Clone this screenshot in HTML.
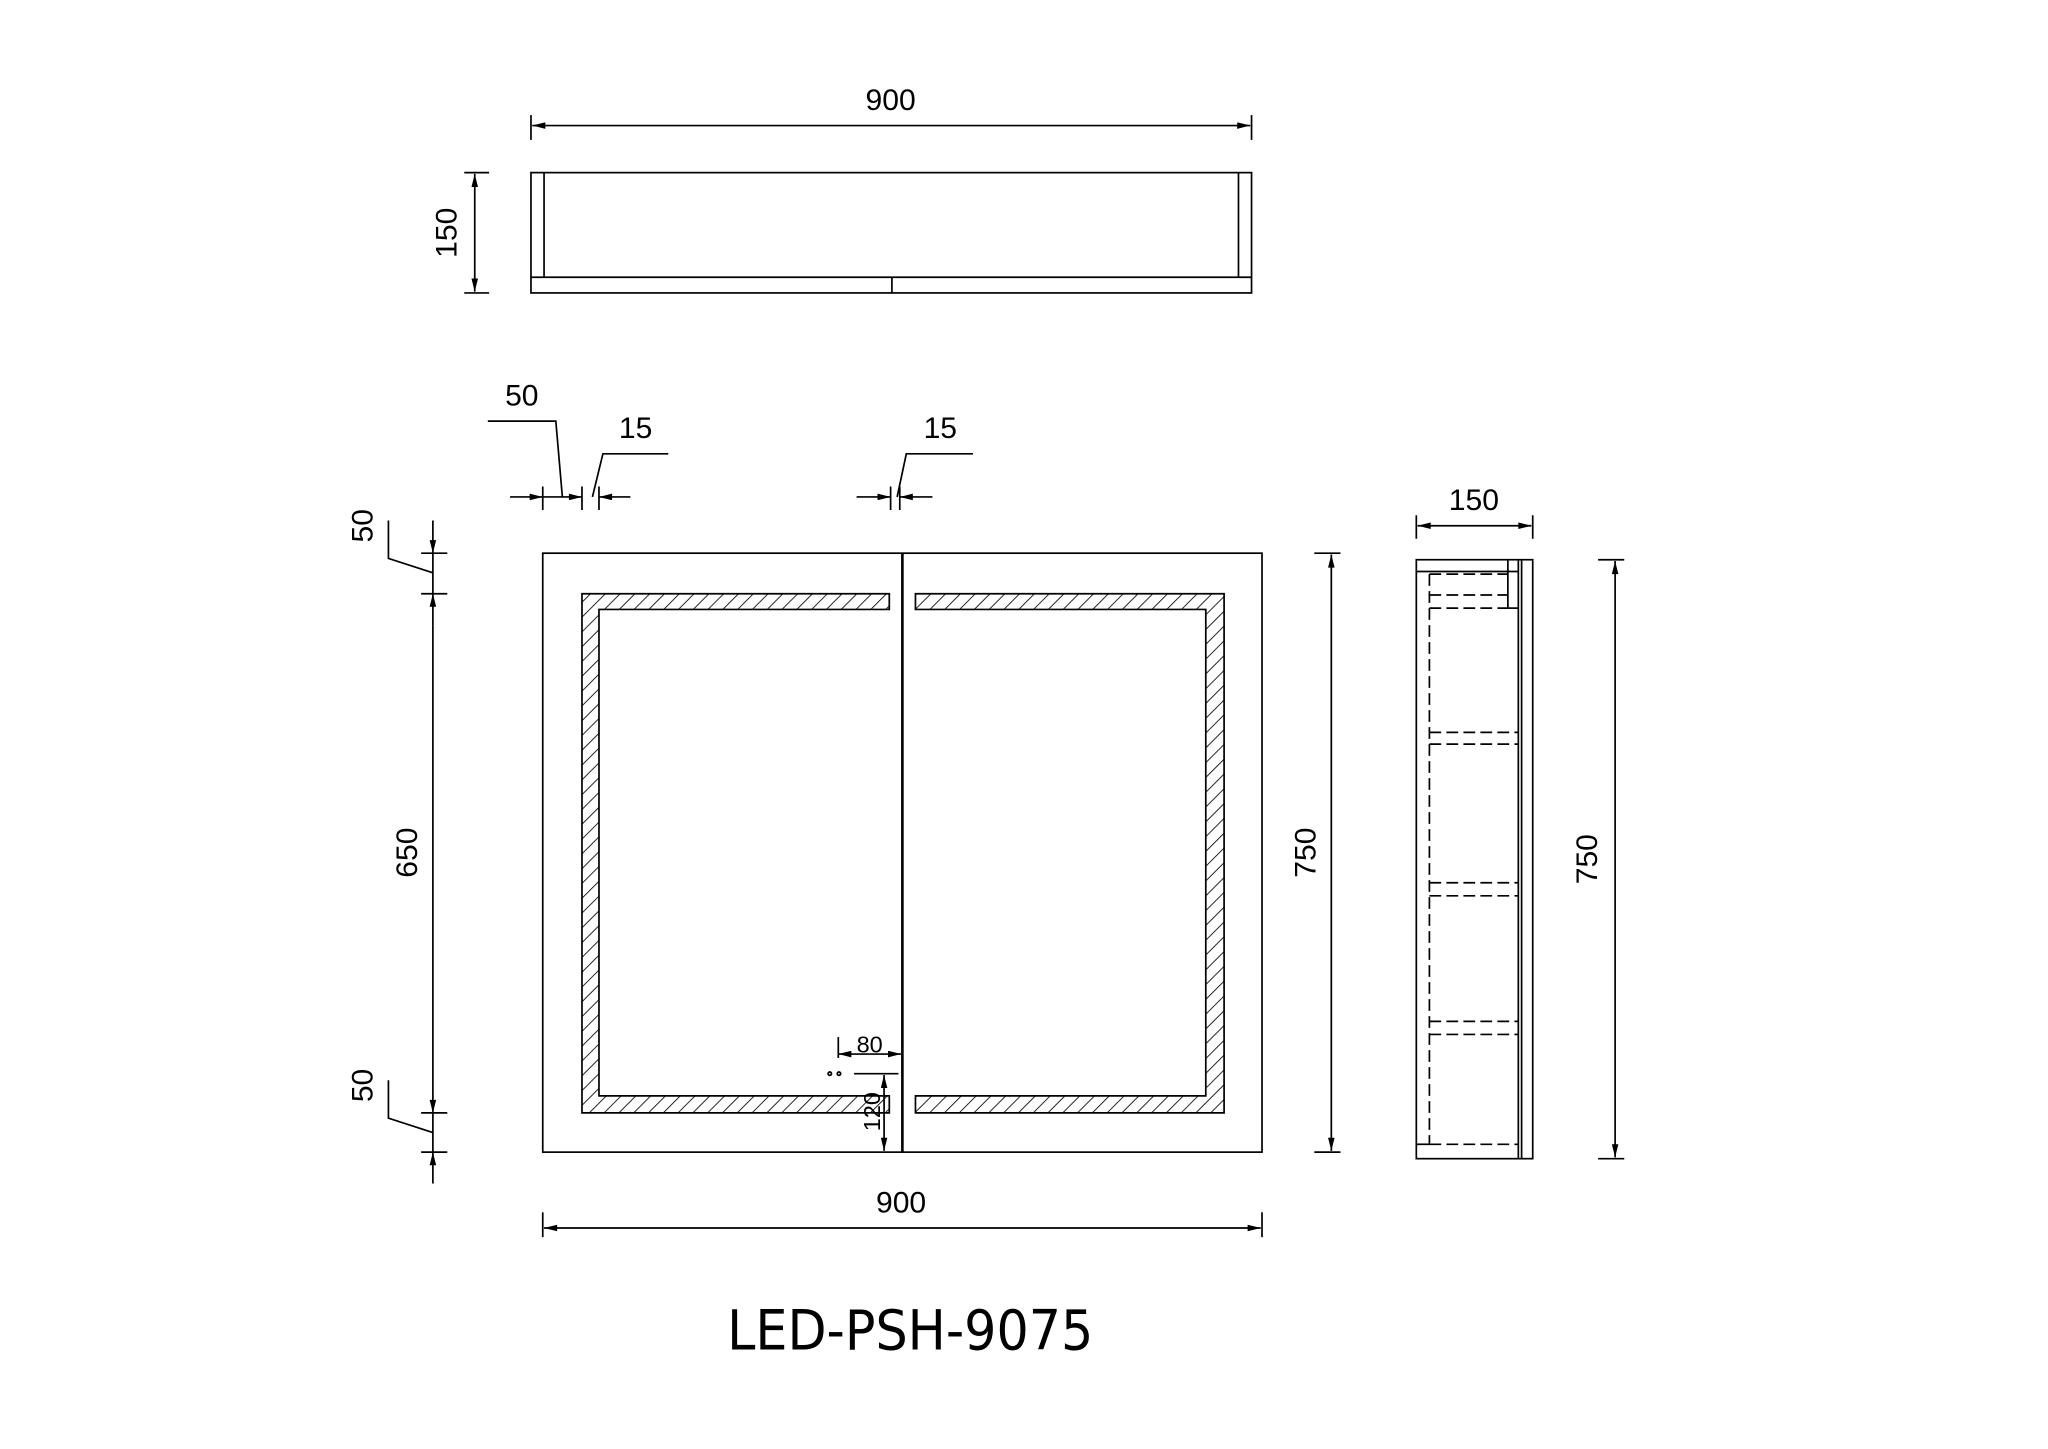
<!DOCTYPE html>
<html><head><meta charset="utf-8"><style>
html,body{margin:0;padding:0;background:#fff;}
svg{display:block;}
text{font-family:"Liberation Sans",Arial,sans-serif;fill:#000;}
</style></head><body>
<svg width="2048" height="1449" viewBox="0 0 1566 1108" xmlns="http://www.w3.org/2000/svg">
<defs>
<pattern id="h" patternUnits="userSpaceOnUse" width="8" height="8" patternTransform="rotate(45)">
<rect width="8" height="8" fill="#fff"/><line x1="0" y1="0" x2="0" y2="8" stroke="#000" stroke-width="1.3"/>
</pattern>
<marker id="a" viewBox="0 0 12 6" refX="12" refY="3" markerWidth="12" markerHeight="5" markerUnits="userSpaceOnUse" orient="auto-start-reverse"><path d="M0,0 L12,3 L0,6 z" fill="#000"/></marker>
</defs>
<g stroke="#000" stroke-width="1.3" fill="none">
<!-- top view -->
<line x1="406" y1="88" x2="406" y2="107"/><line x1="957" y1="88" x2="957" y2="107"/>
<line x1="407" y1="96" x2="956" y2="96" marker-start="url(#a)" marker-end="url(#a)"/>
<rect x="406" y="132" width="551" height="92"/>
<line x1="416" y1="132" x2="416" y2="212"/><line x1="947" y1="132" x2="947" y2="212"/>
<line x1="406" y1="212" x2="957" y2="212"/><line x1="682" y1="212" x2="682" y2="224"/>
<line x1="355" y1="132" x2="374" y2="132"/><line x1="355" y1="224" x2="374" y2="224"/>
<line x1="363" y1="133" x2="363" y2="223" marker-start="url(#a)" marker-end="url(#a)"/>

<!-- front view -->
<rect x="415" y="423" width="550" height="458"/>
<line x1="690" y1="423" x2="690" y2="881" stroke-width="2"/>
<path d="M445,454 L680,454 L680,466 L458,466 L458,838 L680,838 L680,851 L445,851 Z" fill="url(#h)"/>
<path d="M700,454 L936,454 L936,851 L700,851 L700,838 L922,838 L922,466 L700,466 Z" fill="url(#h)"/>
<line x1="1005" y1="423" x2="1025" y2="423"/><line x1="1005" y1="881" x2="1025" y2="881"/>
<line x1="1018" y1="424" x2="1018" y2="880" marker-start="url(#a)" marker-end="url(#a)"/>
<line x1="415" y1="927" x2="415" y2="946"/><line x1="965" y1="927" x2="965" y2="946"/>
<line x1="416" y1="939" x2="964" y2="939" marker-start="url(#a)" marker-end="url(#a)"/>

<!-- left dims -->
<line x1="322" y1="423" x2="342" y2="423"/><line x1="322" y1="454" x2="342" y2="454"/>
<line x1="322" y1="851" x2="342" y2="851"/><line x1="322" y1="881" x2="342" y2="881"/>
<line x1="331" y1="398" x2="331" y2="423" marker-end="url(#a)"/>
<line x1="331" y1="423" x2="331" y2="454"/>
<line x1="331" y1="478" x2="331" y2="454" marker-end="url(#a)"/>
<line x1="331" y1="478" x2="331" y2="827"/>
<line x1="331" y1="827" x2="331" y2="851" marker-end="url(#a)"/>
<line x1="331" y1="851" x2="331" y2="881"/>
<line x1="331" y1="905" x2="331" y2="881" marker-end="url(#a)"/>
<polyline points="297,398 297,427 331,438"/>
<polyline points="297,826 297,855 331,866"/>

<!-- top dims -->
<line x1="415" y1="372" x2="415" y2="390"/><line x1="445" y1="372" x2="445" y2="390"/><line x1="458" y1="372" x2="458" y2="390"/>
<line x1="390" y1="380" x2="415" y2="380" marker-end="url(#a)"/>
<line x1="415" y1="380" x2="445" y2="380" marker-end="url(#a)"/>
<line x1="482" y1="380" x2="458" y2="380" marker-end="url(#a)"/>
<polyline points="373,322 425,322 430,380"/>
<polyline points="453,380 461,347 511,347"/>
<line x1="681" y1="372" x2="681" y2="390"/><line x1="688" y1="372" x2="688" y2="390"/>
<line x1="655" y1="380" x2="681" y2="380" marker-end="url(#a)"/>
<line x1="713" y1="380" x2="688" y2="380" marker-end="url(#a)"/>
<polyline points="686,380 693,347 744,347"/>

<!-- small detail -->
<line x1="641" y1="793" x2="641" y2="809"/>
<line x1="665" y1="806" x2="641" y2="806" marker-end="url(#a)"/>
<line x1="665" y1="806" x2="689" y2="806" marker-end="url(#a)"/>
<line x1="653" y1="821" x2="687" y2="821"/>
<line x1="676" y1="850" x2="676" y2="822" marker-end="url(#a)"/>
<line x1="676" y1="850" x2="676" y2="880" marker-end="url(#a)"/>
<circle cx="634.5" cy="821" r="1.3"/><circle cx="641.5" cy="821" r="1.3"/>

<!-- side view -->
<rect x="1083" y="428" width="89" height="458"/>
<line x1="1161" y1="428" x2="1161" y2="886"/><line x1="1163.5" y1="428" x2="1163.5" y2="886"/>
<line x1="1083" y1="437" x2="1161" y2="437"/>
<line x1="1083" y1="875" x2="1093" y2="875"/>
<line x1="1153" y1="428" x2="1153" y2="465"/>
<line x1="1153" y1="465" x2="1161" y2="465"/>
<g stroke-dasharray="9,4">
<line x1="1093" y1="439" x2="1093" y2="875"/>
<line x1="1093" y1="439" x2="1153" y2="439"/>
<line x1="1093" y1="455" x2="1153" y2="455"/>
<line x1="1093" y1="465" x2="1153" y2="465"/>
<line x1="1093" y1="560" x2="1161" y2="560"/><line x1="1093" y1="569" x2="1161" y2="569"/>
<line x1="1093" y1="675" x2="1161" y2="675"/><line x1="1093" y1="685" x2="1161" y2="685"/>
<line x1="1093" y1="781" x2="1161" y2="781"/><line x1="1093" y1="791" x2="1161" y2="791"/>
<line x1="1093" y1="875" x2="1161" y2="875"/>
</g>
<line x1="1083" y1="394" x2="1083" y2="412"/><line x1="1172" y1="394" x2="1172" y2="412"/>
<line x1="1084" y1="402" x2="1171" y2="402" marker-start="url(#a)" marker-end="url(#a)"/>
<line x1="1222" y1="428" x2="1242" y2="428"/><line x1="1222" y1="886" x2="1242" y2="886"/>
<line x1="1235" y1="429" x2="1235" y2="885" marker-start="url(#a)" marker-end="url(#a)"/>
</g>

<g font-size="23" text-anchor="middle">
<text x="681" y="84">900</text>
<text x="689" y="927">900</text>
<text x="399" y="310">50</text>
<text x="486" y="335">15</text>
<text x="719" y="335">15</text>
<text x="1127" y="390">150</text>
<text transform="translate(349,178) rotate(-90)">150</text>
<text transform="translate(285,402) rotate(-90)">50</text>
<text transform="translate(319,652) rotate(-90)">650</text>
<text transform="translate(285,830) rotate(-90)">50</text>
<text transform="translate(1006,652) rotate(-90)">750</text>
<text transform="translate(1221,657) rotate(-90)">750</text>
<text x="665" y="805" font-size="18">80</text>
<text transform="translate(673,850) rotate(-90)" font-size="18">120</text>
</g>
<text x="556" y="1032" font-size="42" textLength="280" lengthAdjust="spacingAndGlyphs" style="font-family:'DejaVu Sans','Liberation Sans',sans-serif">LED-PSH-9075</text>
</svg>
</body></html>
